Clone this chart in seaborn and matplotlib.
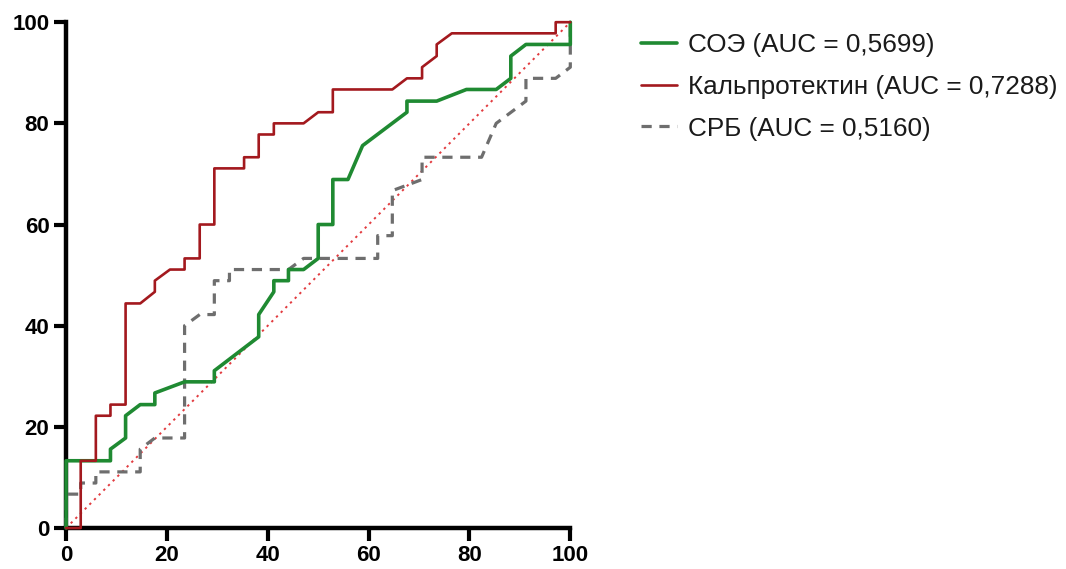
import matplotlib
matplotlib.use('Agg')
import matplotlib.pyplot as plt
import pandas as pd
import seaborn as sns

# ROC points (100 - specificity, sensitivity)
soe_fpr = [0, 0, 8.8, 8.8, 11.8, 11.8, 14.7, 17.6, 17.6, 23.5, 29.4, 29.4, 38.2, 38.2,
           41.2, 41.2, 44.1, 44.1, 47.1, 50, 50, 52.9, 52.9, 55.9, 58.8, 67.6, 67.6,
           73.5, 79.4, 85.3, 88.2, 88.2, 91.2, 100, 100]
soe_tpr = [0, 13.3, 13.3, 15.6, 17.8, 22.2, 24.4, 24.4, 26.7, 28.9, 28.9, 31.1, 37.8, 42.2,
           46.7, 48.9, 48.9, 51.1, 51.1, 53.3, 60, 60, 68.9, 68.9, 75.6, 82.2, 84.4,
           84.4, 86.7, 86.7, 88.9, 93.3, 95.6, 95.6, 100]

calp_fpr = [0, 2.9, 2.9, 5.9, 5.9, 8.8, 8.8, 11.8, 11.8, 14.7, 17.6, 17.6, 20.6, 23.5,
            23.5, 26.5, 26.5, 29.4, 29.4, 35.3, 35.3, 38.2, 38.2, 41.2, 41.2, 47.1, 50,
            52.9, 52.9, 64.7, 67.6, 70.6, 70.6, 73.5, 73.5, 76.5, 97.1, 97.1, 100]
calp_tpr = [0, 0, 13.3, 13.3, 22.2, 22.2, 24.4, 24.4, 44.4, 44.4, 46.7, 48.9, 51.1, 51.1,
            53.3, 53.3, 60, 60, 71.1, 71.1, 73.3, 73.3, 77.8, 77.8, 80, 80, 82.2,
            82.2, 86.7, 86.7, 88.9, 88.9, 91.1, 93.3, 95.6, 97.8, 97.8, 100, 100]

crp_fpr = [0, 0, 2.9, 2.9, 5.9, 5.9, 14.7, 14.7, 17.6, 23.5, 23.5, 26.5, 29.4, 29.4,
           32.4, 32.4, 44.1, 47.1, 61.8, 61.8, 64.7, 64.7, 70.6, 70.6, 82.4, 85.3,
           91.2, 91.2, 97.1, 100, 100]
crp_tpr = [0, 6.7, 6.7, 8.9, 8.9, 11.1, 11.1, 15.6, 17.8, 17.8, 40, 42.2, 42.2, 48.9,
           48.9, 51.1, 51.1, 53.3, 53.3, 57.8, 57.8, 66.7, 68.9, 73.3, 73.3, 80,
           84.4, 88.9, 88.9, 91.1, 100]

labels = ['СОЭ (AUC = 0,5699)', 'Кальпротектин (AUC = 0,7288)', 'СРБ (AUC = 0,5160)']
ref_line = [0, 100]
ticks = [0, 20, 40, 60, 80, 100]

sns.set_theme(style='white')
plt.rcParams['font.family'] = ['Liberation Sans', 'DejaVu Sans']
plt.rcParams['text.color'] = 'black'
plt.rcParams['xtick.color'] = 'black'
plt.rcParams['ytick.color'] = 'black'

fig = plt.figure(figsize=(10.66, 5.69), dpi=100)
ax = fig.add_axes([0.062, 0.072, 0.473, 0.889])

sns.lineplot(x=ref_line, y=ref_line, ax=ax, color='#e23b3f', linewidth=1.4,
             linestyle=(0, (1.2, 2.2)), clip_on=False, zorder=2)
sns.lineplot(x=crp_fpr, y=crp_tpr, ax=ax, sort=False, estimator=None, color='#6e6e6e',
             linewidth=2.3, linestyle=(0, (3.2, 2.4)), label=labels[2], clip_on=False, zorder=3)
sns.lineplot(x=soe_fpr, y=soe_tpr, ax=ax, sort=False, estimator=None, color='#1f8a32',
             linewidth=2.6, label=labels[0], clip_on=False, zorder=4)
sns.lineplot(x=calp_fpr, y=calp_tpr, ax=ax, sort=False, estimator=None, color='#a3191e',
             linewidth=1.9, label=labels[1], clip_on=False, zorder=5)

ax.set_xlim(0, 100)
ax.set_ylim(0, 100)
ax.set_xticks(ticks)
ax.set_yticks(ticks)
sns.despine(ax=ax)
for side in ['left', 'bottom']:
    ax.spines[side].set_linewidth(3.2)
    ax.spines[side].set_color('black')
    ax.spines[side].set_zorder(1)
ax.tick_params(axis='both', which='major', length=9, width=3, color='black',
               labelcolor='black', direction='out', pad=3, labelsize=16,
               left=True, bottom=True)
for lbl in ax.get_xticklabels() + ax.get_yticklabels():
    lbl.set_fontweight('bold')
ax.set_xlabel('')
ax.set_ylabel('')

handles, lbls = ax.get_legend_handles_labels()
order = [lbls.index(l) for l in labels]
leg = ax.legend([handles[i] for i in order], [lbls[i] for i in order],
                loc='upper left', bbox_to_anchor=(0.601, 0.942), bbox_transform=fig.transFigure,
                frameon=False, fontsize=18.8, handlelength=1.38, handletextpad=0.45,
                labelspacing=0.68, borderpad=0, borderaxespad=0)
for t in leg.get_texts():
    t.set_color('#1a1a1a')

fig.savefig('out.png', dpi=100)
